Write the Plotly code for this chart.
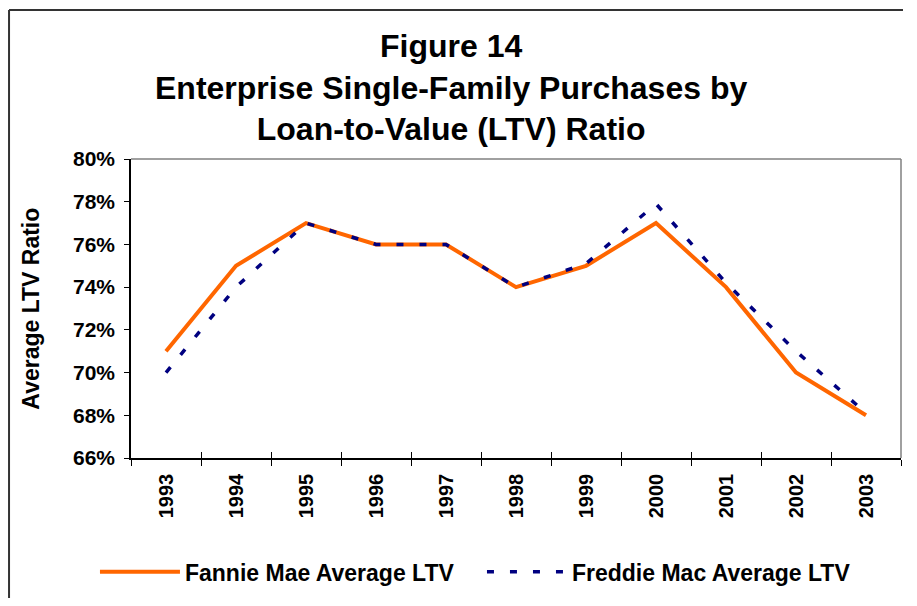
import plotly.graph_objects as go

years = ["1993", "1994", "1995", "1996", "1997", "1998", "1999", "2000", "2001", "2002", "2003"]
fannie = [71, 75, 77, 76, 76, 74, 75, 77, 74, 70, 68]
freddie = [70, 74, 77, 76, 76, 74, 75.1, 77.9, 74.2, 71, 68.1]
y_ticks = [66, 68, 70, 72, 74, 76, 78, 80]

FONT = "Liberation Sans, Arial, sans-serif"

fig = go.Figure()
fig.add_trace(go.Scatter(
    x=years, y=fannie, mode="lines", name="Fannie Mae Average LTV",
    line=dict(color="#FF6600", width=4),
))
fig.add_trace(go.Scatter(
    x=years, y=freddie, mode="lines", name="Freddie Mac Average LTV",
    line=dict(color="#000080", width=3.5, dash="7px,16px"),
))

n = len(years)
fig.update_layout(
    width=895, height=590,
    margin=dict(l=123, r=2, t=151, b=140),
    paper_bgcolor="white", plot_bgcolor="white",
    font=dict(family=FONT, color="black"),
    showlegend=True,
    legend=dict(
        orientation="h", x=-0.0468, xanchor="left", y=-0.381, yanchor="middle",
        font=dict(family=FONT, size=23, color="black", weight="bold"),
        bgcolor="rgba(0,0,0,0)", itemwidth=80, entrywidth=292, entrywidthmode="pixels",
    ),
    xaxis=dict(
        type="category", categoryarray=years, range=[-0.5, n - 0.5],
        showline=True, linecolor="black", linewidth=1.5,
        ticks="outside", tickson="boundaries", ticklen=6, tickcolor="black", tickwidth=1.2,
        tickangle=-90, tickfont=dict(family=FONT, size=20, color="black", weight="bold"),
        ticklabelstandoff=6,
        showgrid=False, zeroline=False,
    ),
    xaxis2=dict(
        overlaying="x", anchor="y", side="bottom", range=[-0.5, n - 0.5],
        tick0=-0.5, dtick=1, ticks="inside", ticklen=6, tickcolor="black", tickwidth=1.2,
        showticklabels=False, showline=False, showgrid=False, zeroline=False,
    ),
    yaxis=dict(
        range=[66, 80], tickvals=y_ticks, ticktext=[f"{v}%" for v in y_ticks],
        showline=True, linecolor="black", linewidth=1.5,
        ticks="outside", ticklen=5, tickcolor="black", tickwidth=1.2,
        tickfont=dict(family=FONT, size=21, color="black", weight="bold"),
        ticklabelstandoff=5,
        showgrid=False, zeroline=False,
    ),
    shapes=[
        dict(type="line", xref="paper", yref="paper", x0=0, x1=1, y0=1, y1=1,
             line=dict(color="#808080", width=1.5)),
        dict(type="line", xref="paper", yref="paper", x0=1, x1=1, y0=0, y1=1,
             line=dict(color="#808080", width=1.5)),
        # outer chart frame (only top and left edges fall inside the view)
        dict(type="line", xref="paper", yref="paper", x0=-0.1584, x1=1.1, y0=1.4983, y1=1.4983,
             line=dict(color="#333333", width=2)),
        dict(type="line", xref="paper", yref="paper", x0=-0.1584, x1=-0.1584, y0=-0.6, y1=1.4983,
             line=dict(color="#333333", width=2)),
    ],
    annotations=[
        dict(text="Figure 14<br>Enterprise Single-Family Purchases by<br>Loan-to-Value (LTV) Ratio",
             xref="paper", yref="paper", x=0.4156, y=1.445, xanchor="center", yanchor="top",
             showarrow=False, font=dict(family=FONT, size=32, color="black", weight="bold")),
        dict(text="Average LTV Ratio", xref="paper", yref="paper", x=-0.131, y=0.5,
             xanchor="center", yanchor="middle", textangle=-90, showarrow=False,
             font=dict(family=FONT, size=23, color="black", weight="bold")),
    ],
)

# invisible trace so xaxis2 renders
fig.add_trace(go.Scatter(x=[-0.5, n - 0.5], y=[66, 66], xaxis="x2", mode="lines",
                         line=dict(width=0), showlegend=False, hoverinfo="skip"))

fig.write_html("out.html")
